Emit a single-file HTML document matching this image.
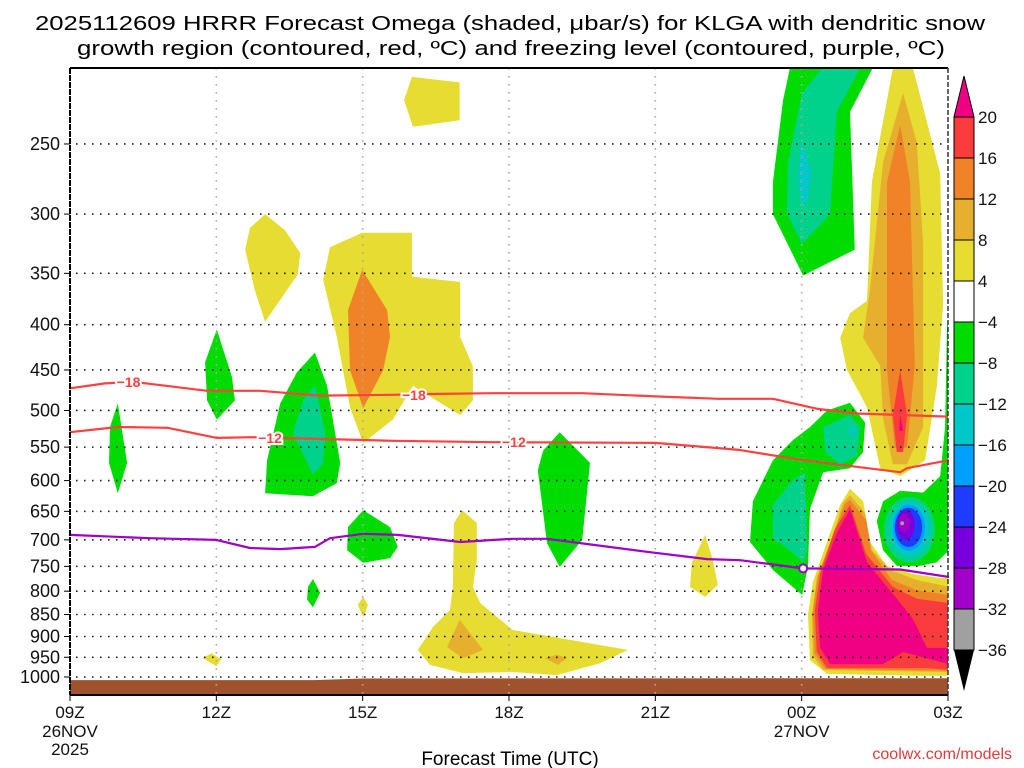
<!DOCTYPE html>
<html><head><meta charset="utf-8"><title>HRRR Omega KLGA</title>
<style>html,body{margin:0;padding:0;background:#fff}svg{display:block}text{font-family:"Liberation Sans",sans-serif}</style>
</head><body>
<svg id="chart" width="1024" height="768" viewBox="0 0 1024 768" xmlns="http://www.w3.org/2000/svg">
<text x="510" y="30" font-size="20" text-anchor="middle" textLength="950" lengthAdjust="spacingAndGlyphs">2025112609 HRRR Forecast Omega (shaded, μbar/s) for KLGA with dendritic snow</text>
<text x="511" y="55" font-size="20" text-anchor="middle" textLength="868" lengthAdjust="spacingAndGlyphs">growth region (contoured, red, ºC) and freezing level (contoured, purple, ºC)</text>
<g id="shade"></g>
<g id="grid"></g>
<g id="contours"></g>
<g id="axes"></g>
<g id="cbar"></g>
<text x="510" y="765" font-size="19" text-anchor="middle">Forecast Time (UTC)</text>
<text x="1012" y="759" font-size="16" fill="#e03c3c" text-anchor="end">coolwx.com/models</text>
</svg>
<script>
const pressureTicks = [250,300,350,400,450,500,550,600,650,700,750,800,850,900,950,1000];
const timeTicks = [0,3,6,9,12,15,18];
const timeLabels = ["09Z","12Z","15Z","18Z","21Z","00Z","03Z"];
const dateLabels = {0:["26NOV","2025"],15:["27NOV"]};
const surfaceHours = [0,5,6,15,18];
const surfacePressure = [1008,1008,1004,1003,1003];

const levelColors = {"-36":"#a0a0a0","-32":"#a000c8","-28":"#7800dc","-24":"#1e3cff","-20":"#00a0ff","-16":"#00c8c8","-12":"#00d28c","-8":"#00dc00","4":"#e6dc32","8":"#e6af2d","12":"#f08228","16":"#fa3c3c","20":"#f00082"};

const regionLevels = [4,8,12,16,20, -8,-12,-16, 4,8,12,16,20, -8,-12,-12,-16, -8, 4,12,4,-8,-8,-12,-8,-8,-8,4,4,8,8,4,4];
const regionShapes = [
 [[16.87,205],[17.28,205],[17.84,270],[17.90,380],[17.77,470],[17.53,569],[17.02,593],[16.61,581],[16.34,496],[15.93,450],[15.79,414],[15.99,388],[16.34,376],[16.44,276]],
 [[17.08,219],[17.36,249],[17.49,324],[17.49,522],[17.16,575],[16.87,575],[16.67,511],[16.61,445],[16.26,414],[16.40,365],[16.67,262]],
 [[17.02,238],[17.22,276],[17.32,445],[17.16,551],[16.91,551],[16.75,450],[16.75,276]],
 [[17.02,450],[17.16,506],[17.08,557],[16.95,557],[16.87,506]],
 [[17.02,506],[17.08,527],[17.0,527]],
 [[14.76,205],[16.46,205],[15.99,230],[16.09,329],[15.03,352],[14.41,300],[14.41,276],[14.62,223]],
 [[15.42,205],[16.20,205],[15.72,230],[15.58,300],[15.01,324],[14.70,300],[14.72,262],[15.01,219]],
 [[15.01,249],[15.21,270],[15.13,288],[15.01,294],[14.92,276],[14.97,256]],
 [[15.99,613],[16.26,633],[16.40,704],[16.75,749],[17.28,765],[17.84,773],[18.02,773],[18.02,997],[17.42,997],[15.52,992],[15.17,957],[15.13,851],[15.23,781],[15.52,704],[15.79,639]],
 [[15.99,623],[16.30,653],[16.44,719],[16.81,757],[17.36,777],[18.02,791],[18.02,987],[15.44,982],[15.23,947],[15.21,851],[15.31,773],[15.62,697],[15.85,636]],
 [[15.99,631],[16.32,665],[16.42,719],[16.85,777],[17.36,798],[18.02,808],[18.02,984],[15.48,979],[15.27,942],[15.23,847],[15.33,769],[15.64,691],[15.89,637]],
 [[15.99,639],[16.32,726],[16.87,791],[17.36,816],[18.02,825],[18.02,982],[17.57,977],[15.52,977],[15.31,937],[15.27,842],[15.38,765],[15.68,681]],
 [[15.99,646],[16.34,742],[16.95,816],[17.28,860],[17.57,927],[18.02,927],[18.02,967],[17.08,937],[16.67,967],[15.58,967],[15.38,927],[15.33,842],[15.44,757],[15.72,688]],
 [[15.99,490],[16.30,516],[16.26,557],[15.99,581],[15.44,587],[15.17,646],[15.13,749],[15.01,808],[14.41,757],[13.94,704],[14.00,633],[14.41,569],[14.82,540],[15.17,522],[15.52,500]],
 [[15.44,522],[15.99,506],[16.20,522],[16.13,563],[15.79,575],[15.48,557]],
 [[14.41,639],[14.82,599],[15.07,587],[15.11,719],[15.03,742],[14.76,719],[14.41,697]],
 [[16.03,519],[16.13,529],[16.05,536],[15.95,527]],
 [[17.98,400],[18.02,400],[18.02,719],[17.77,742],[17.42,749],[16.95,749],[16.67,719],[16.54,667],[16.67,633],[17.02,616],[17.49,619],[17.84,593],[17.94,522]],
 [[5.19,356],[5.33,327],[5.99,315],[7.01,315],[7.01,353],[8.0,358],[8.0,413],[8.26,446],[8.26,487],[8.0,506],[7.03,469],[6.62,512],[6.01,544],[5.74,496],[5.47,413]],
 [[5.99,347],[6.50,385],[6.56,413],[6.42,450],[6.01,497],[5.74,450],[5.70,385]],
 [[7.01,210],[7.99,213],[7.99,235],[7.03,239],[6.85,223]],
 [[3.01,405],[3.32,458],[3.38,487],[3.01,512],[2.81,487],[2.77,441]],
 [[0.98,491],[1.17,573],[0.98,620],[0.80,573],[0.82,522]],
 [[5.02,468],[5.23,530],[5.19,573],[4.98,591],[4.57,530],[4.78,487]],
 [[10.04,529],[10.66,573],[10.50,700],[10.04,751],[9.78,706],[9.59,584],[9.70,555]],
 [[6.01,648],[6.56,677],[6.72,713],[6.56,734],[6.01,743],[5.68,719],[5.70,677]],
 [[4.98,775],[5.13,803],[4.98,834],[4.86,818],[4.88,791]],
 [[6.01,812],[6.11,829],[6.01,856],[5.90,829]],
 [[8.04,648],[8.34,670],[8.34,738],[8.26,791],[8.41,825],[9.08,885],[11.44,932],[10.87,965],[9.98,995],[9.08,987],[8.06,990],[7.38,969],[7.13,932],[7.44,878],[7.79,840],[7.85,791],[7.87,670]],
 [[7.99,862],[8.47,932],[8.06,952],[7.73,925]],
 [[9.74,952],[9.98,944],[10.19,952],[10.0,969]],
 [[13.02,691],[13.18,738],[13.28,787],[13.02,812],[12.71,791],[12.75,743]],
 [[2.72,952],[2.9,940],[3.1,955],[3.0,972]]
];
const green14 = [[5.02,430],[5.27,469],[5.54,573],[5.47,604],[4.98,625],[4.0,620],[4.04,569],[4.31,491],[4.65,453]];
const yellow13 = [[4.0,300],[4.41,313],[4.72,332],[4.67,351],[4.31,375],[4.0,397],[3.79,366],[3.59,329],[3.69,311]];
const vortexLevels = [-12,-16,-20,-24,-28,-32,-36];
const vortexHourMin = [16.69,16.81,16.87,16.91,16.95,16.99,17.02];
const vortexHourMax = [17.73,17.63,17.53,17.47,17.32,17.22,17.10];
const vortexPTop = [626,634,639,644,648,654,667];
const vortexPBot = [742,731,720,713,700,686,674];

const iso18 = [[0,472],[0.72,466],[1.29,464],[2.81,475],[3.9,475],[5.12,481],[6.62,480],[7.38,479],[8.67,478],[10.5,478],[12,482],[13.3,485],[14.41,485],[15.33,498],[16.13,504],[18,508]];
const iso12 = [[0,529],[0.98,522],[2,523],[3.01,537],[3.75,536],[6.62,541],[8.67,543],[12,544],[13.72,554],[15.03,569],[17.02,587],[17.16,581],[18.02,569]];
const iso0 = [[0,691],[1.64,697],[3,700],[3.69,715],[4.31,717],[5.02,713],[5.33,697],[6.01,689],[6.72,691],[8,704],[9.08,698],[9.78,698],[10.46,706],[11.83,722],[13.06,736],[13.74,738],[15.03,754],[17.02,756],[18.02,771]];
const contourLabels = [["−18",1.2,464,"#ff4040"],["−18",7.05,480,"#ff4040"],["−12",4.1,537,"#ff4040"],["−12",9.1,543,"#ff4040"]];

const cbarLabels = ["20","16","12","8","4","−4","−8","−12","−16","−20","−24","−28","−32","−36"];
const cbarColors = ["#fa3c3c","#f08228","#e6af2d","#e6dc32","#ffffff","#00dc00","#00d28c","#00c8c8","#00a0ff","#1e3cff","#7800dc","#a000c8","#a0a0a0"];

const NS="http://www.w3.org/2000/svg";
const X0=70,X1=948,YTOP=68,YBOT=695;
function xs(h){return X0+h*(X1-X0)/18;}
function ys(p){return 677-Math.log(1000/p)*384.5;}
function mk(tag,attrs,parent){const e=document.createElementNS(NS,tag);for(const k in attrs)e.setAttribute(k,attrs[k]);parent.appendChild(e);return e;}
function pts(arr){return arr.map(d=>xs(d[0]).toFixed(1)+","+ys(d[1]).toFixed(1)).join(" ");}

const shade=document.getElementById('shade');
const clip=mk('clipPath',{id:'plotclip'},shade);
mk('rect',{x:X0,y:YTOP,width:X1-X0,height:YBOT-YTOP},clip);
shade.setAttribute('clip-path','url(#plotclip)');
function region(level,arr){
 const e=mk('polygon',{points:pts(arr),fill:levelColors[String(level)]},shade);
 
 
}
region(4,yellow13);
regionShapes.forEach((s,i)=>{ if(i===23) region(-8,green14); region(regionLevels[i],s); });
vortexLevels.forEach((lv,i)=>{
 const cx=(xs(vortexHourMin[i])+xs(vortexHourMax[i]))/2, rx=(xs(vortexHourMax[i])-xs(vortexHourMin[i]))/2;
 const cy=(ys(vortexPTop[i])+ys(vortexPBot[i]))/2, ry=(ys(vortexPBot[i])-ys(vortexPTop[i]))/2;
 const e=mk('ellipse',{cx:cx,cy:cy,rx:rx,ry:ry,fill:levelColors[String(lv)]},shade);
 
 
});
const gpts=[[0,1100]].concat(surfaceHours.map((h,i)=>[h,surfacePressure[i]])).concat([[18,1100]]);
const groundPoly=mk('polygon',{points:pts(gpts),fill:'#a0522d'},shade);



const grid=document.getElementById('grid');
pressureTicks.forEach(p=>{
 const l=mk('line',{x1:X0+6,x2:X1,y1:ys(p),y2:ys(p),stroke:'#222','stroke-width':1.6,'stroke-dasharray':'1.6,6.4'},grid);
 
 
});
timeTicks.slice(1,-1).forEach(h=>{
 const l=mk('line',{x1:xs(h),x2:xs(h),y1:YTOP,y2:YBOT,stroke:'#aaa','stroke-width':1.6,'stroke-dasharray':'1.6,6.4'},grid);
 
 
});

const cont=document.getElementById('contours');
function line(arr,color,name){
 const e=mk('polyline',{points:pts(arr),fill:'none',stroke:color,'stroke-width':2.2,'stroke-linejoin':'round'},cont);
 
 
}
line(iso18,'#ff4040','isotherm-minus18');
line(iso12,'#ff4040','isotherm-minus12');
line(iso0,'#a000c8','freezing-level-0c');
contourLabels.forEach(c=>{
 const t=mk('text',{x:xs(c[1]),y:ys(c[2])+5,'font-size':14,'font-weight':'bold',fill:c[3],'text-anchor':'middle',stroke:'#fff','stroke-width':4,'paint-order':'stroke'},cont);
 t.textContent=c[0];
 
 
});
const zc=mk('circle',{cx:xs(15.03),cy:ys(754),r:4,fill:'#fff',stroke:'#a000c8','stroke-width':2},cont);



const ax=document.getElementById('axes');
mk('line',{x1:X0,x2:X1,y1:YTOP,y2:YTOP,stroke:'#000','stroke-width':2},ax);
mk('line',{x1:X0,x2:X1,y1:YBOT,y2:YBOT,stroke:'#000','stroke-width':2},ax);
mk('line',{x1:X0,x2:X0,y1:YTOP,y2:YBOT,stroke:'#000','stroke-width':2,'stroke-dasharray':'6,1'},ax);
mk('line',{x1:X1,x2:X1,y1:YTOP,y2:YBOT,stroke:'#333','stroke-width':1.5,'stroke-dasharray':'5,2'},ax);
pressureTicks.forEach(p=>{
 mk('line',{x1:X0-6,x2:X0,y1:ys(p),y2:ys(p),stroke:'#000','stroke-width':1},ax);
 const t=mk('text',{x:X0-10,y:ys(p)+6,'font-size':18,'text-anchor':'end',fill:'#111'},ax);
 t.textContent=p;
 
 
});
timeTicks.forEach((h,i)=>{
 mk('line',{x1:xs(h),x2:xs(h),y1:YBOT,y2:YBOT+6,stroke:'#000','stroke-width':1},ax);
 const t=mk('text',{x:xs(h),y:718,'font-size':17,'text-anchor':'middle',fill:'#111'},ax);
 t.textContent=timeLabels[i];
 
 
 (dateLabels[h]||[]).forEach((s,j)=>{
  const d=mk('text',{x:xs(h),y:737+j*18,'font-size':17,'text-anchor':'middle',fill:'#111'},ax);
  d.textContent=s;
  
  
 });
});

const cb=document.getElementById('cbar');
const CX=954,CW=20,CT=117,CS=41;
const cbTop=mk('polygon',{points:`${CX},${CT} ${CX+CW},${CT} ${CX+CW/2},${CT-41}`,fill:'#f00082',stroke:'#000','stroke-width':1},cb);


cbarColors.forEach((c,i)=>{
 const r=mk('rect',{x:CX,y:CT+i*CS,width:CW,height:CS,fill:c,stroke:'#000','stroke-width':1},cb);
 
 
});
const yb=CT+cbarColors.length*CS;
const cbBot=mk('polygon',{points:`${CX},${yb} ${CX+CW},${yb} ${CX+CW/2},${yb+41}`,fill:'#000'},cb);


cbarLabels.forEach((s,i)=>{
 const t=mk('text',{x:978,y:CT+i*CS+6,'font-size':17,fill:'#111'},cb);
 t.textContent=s;
 
 
});
</script>
</body></html>
